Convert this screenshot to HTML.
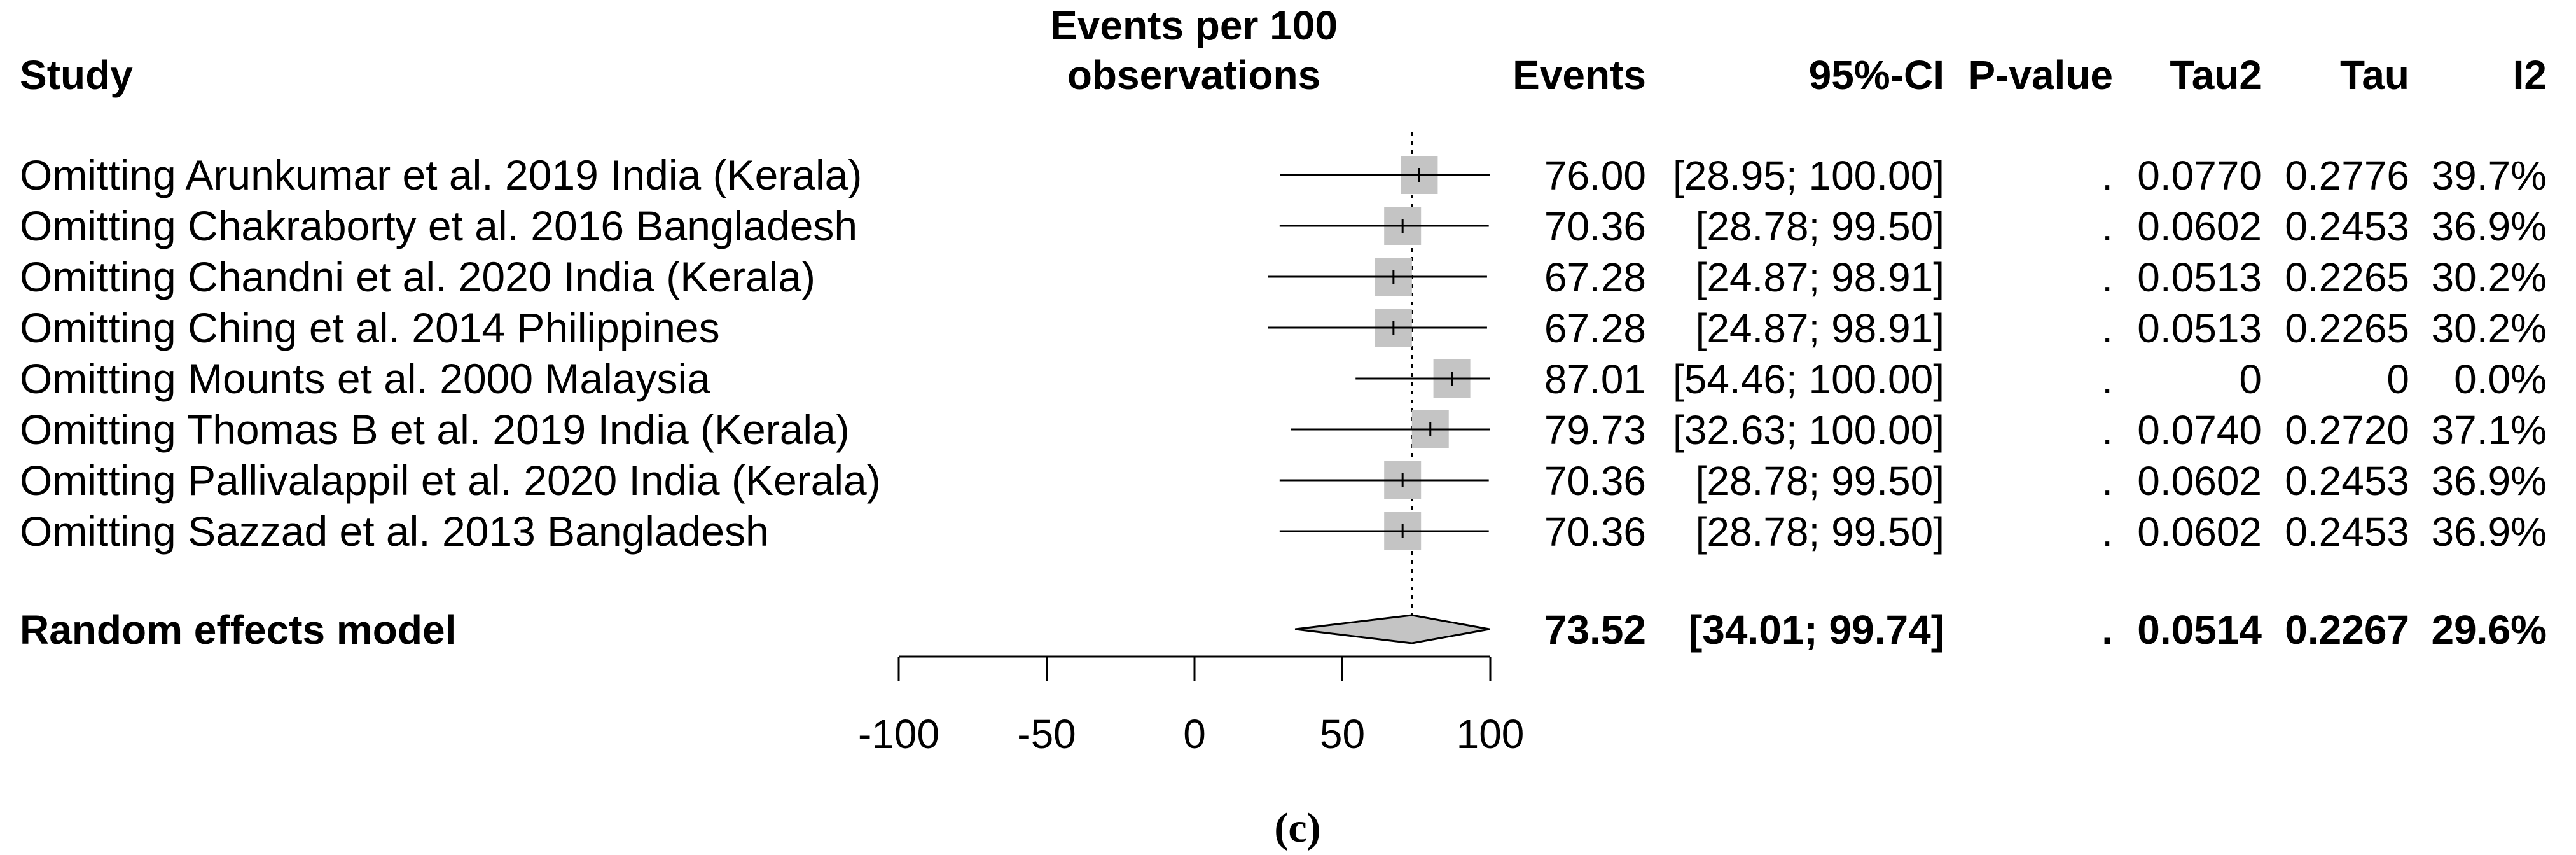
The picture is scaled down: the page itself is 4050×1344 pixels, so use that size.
<!DOCTYPE html>
<html><head><meta charset="utf-8">
<style>
html,body{margin:0;padding:0;background:#fff;}
svg{display:block;}
text{font-family:"Liberation Sans",Arial,sans-serif;fill:#000;}
</style></head>
<body>
<svg id="chart" width="4050" height="1344" viewBox="0 0 4050 1344" xmlns="http://www.w3.org/2000/svg">
  <g id="headers" font-weight="bold" font-size="64">
    <text x="31" y="140">Study</text>
    <text x="1877" y="62" text-anchor="middle">Events per 100</text>
    <text x="1877" y="140" text-anchor="middle">observations</text>
    <text x="2588" y="140" text-anchor="end">Events</text>
    <text x="3057" y="140" text-anchor="end">95%-CI</text>
    <text x="3322" y="140" text-anchor="end">P-value</text>
    <text x="3556" y="140" text-anchor="end">Tau2</text>
    <text x="3788" y="140" text-anchor="end">Tau</text>
    <text x="4004" y="140" text-anchor="end">I2</text>
  </g>
  <g id="rows"></g>
  <g id="axis"></g>
  <text x="2040" y="1323" text-anchor="middle" font-size="66" font-weight="bold" style="font-family:'Liberation Serif',serif">(c)</text>
</svg>
<script>
const studies = ["Omitting Arunkumar et al. 2019 India (Kerala)","Omitting Chakraborty et al. 2016 Bangladesh","Omitting Chandni et al. 2020 India (Kerala)","Omitting Ching et al. 2014 Philippines","Omitting Mounts et al. 2000 Malaysia","Omitting Thomas B et al. 2019 India (Kerala)","Omitting Pallivalappil et al. 2020 India (Kerala)","Omitting Sazzad et al. 2013 Bangladesh"];
const estimates = [76.00,70.36,67.28,67.28,87.01,79.73,70.36,70.36];
const lowers = [28.95,28.78,24.87,24.87,54.46,32.63,28.78,28.78];
const uppers = [100.00,99.50,98.91,98.91,100.00,100.00,99.50,99.50];
const tau2s = ["0.0770","0.0602","0.0513","0.0513","0","0.0740","0.0602","0.0602"];
const taus = ["0.2776","0.2453","0.2265","0.2265","0","0.2720","0.2453","0.2453"];
const i2s = ["39.7%","36.9%","30.2%","30.2%","0.0%","37.1%","36.9%","36.9%"];
const pooledEst = 73.52, pooledLow = 34.01, pooledHigh = 99.74;
const pooledStats = ["0.0514","0.2267","29.6%"];
const ticks = [-100,-50,0,50,100];

const NS="http://www.w3.org/2000/svg";
const xScale = v => 1413 + (v + 100) * 4.65;
const rowY = i => 275 + i * 80;
const pooledY = 989;
const rowsG = document.getElementById('rows');
function mk(tag, attrs, parent, txt){
  const e=document.createElementNS(NS,tag);
  for(const k in attrs) e.setAttribute(k,attrs[k]);
  if(txt!==undefined) e.textContent=txt;
  parent.appendChild(e); return e;
}
function fmtCI(l,u){
  const us=u.toFixed(2);
  return '['+l.toFixed(2)+';'+(us.length<6?'  ':' ')+us+']';
}
const ref = mk('line',{x1:xScale(pooledEst),x2:xScale(pooledEst),y1:208,y2:pooledY-20,stroke:'#000','stroke-width':3,'stroke-dasharray':'6,8'},rowsG);



studies.forEach((s,i)=>{
  const y=rowY(i);
  const g=mk('g',{},rowsG);
  
  
  const lab=mk('text',{x:31,y:y+23,'font-size':66},g,s);
  
  
  const sq=mk('rect',{x:xScale(estimates[i])-29,y:y-30,width:58,height:60,fill:'#c4c4c4'},g);
  
  
  const ci=mk('line',{x1:xScale(lowers[i]),x2:xScale(uppers[i]),y1:y,y2:y,stroke:'#000','stroke-width':3},g);
  
  
  const tk=mk('line',{x1:xScale(estimates[i]),x2:xScale(estimates[i]),y1:y-11,y2:y+11,stroke:'#000','stroke-width':3},g);
  
  
  const cols=[[2588,estimates[i].toFixed(2)],[3057,fmtCI(lowers[i],uppers[i])],[3322,'.'],[3556,tau2s[i]],[3788,taus[i]],[4004,i2s[i]]];
  cols.forEach(c=>{
    const t=mk('text',{x:c[0],y:y+23,'font-size':64,'text-anchor':'end','xml:space':'preserve'},g,c[1]);
    
    
  });
});
const pg=mk('g',{'font-weight':'bold'},rowsG);


const pl=mk('text',{x:31,y:pooledY+23,'font-size':64},pg,'Random effects model');


const dm=mk('polygon',{points:`${xScale(pooledLow)},${pooledY} ${xScale(pooledEst)},${pooledY-22} ${xScale(pooledHigh)},${pooledY} ${xScale(pooledEst)},${pooledY+22}`,fill:'#c4c4c4',stroke:'#000','stroke-width':3},pg);


[[2588,pooledEst.toFixed(2)],[3057,fmtCI(pooledLow,pooledHigh)],[3322,'.'],[3556,pooledStats[0]],[3788,pooledStats[1]],[4004,pooledStats[2]]].forEach(c=>{
  const t=mk('text',{x:c[0],y:pooledY+23,'font-size':64,'text-anchor':'end','xml:space':'preserve'},pg,c[1]);
  
  
});
const ax=document.getElementById('axis');
const al=mk('line',{x1:xScale(ticks[0]),x2:xScale(ticks[ticks.length-1]),y1:1032,y2:1032,stroke:'#000','stroke-width':3},ax);


ticks.forEach(t=>{
  const l=mk('line',{x1:xScale(t),x2:xScale(t),y1:1032,y2:1071,stroke:'#000','stroke-width':3},ax);
  
  
  const tl=mk('text',{x:xScale(t),y:1176,'font-size':64,'text-anchor':'middle'},ax,String(t));
  
  
});
</script>
</body></html>
